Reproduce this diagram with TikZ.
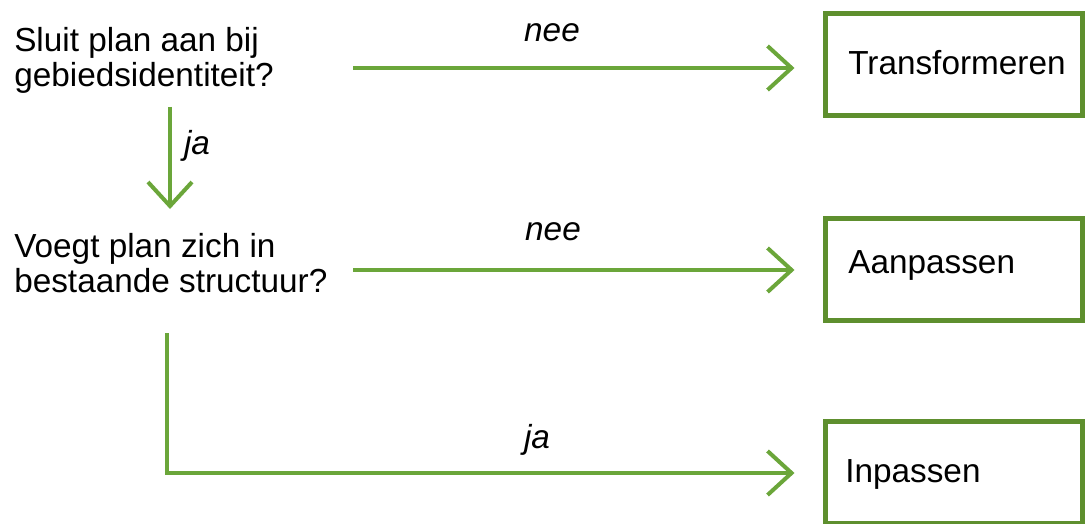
\documentclass[tikz,border=0pt]{standalone}
\usepackage{fontspec}
\setmainfont{Liberation Sans}
\usetikzlibrary{arrows.meta}
\definecolor{boxgreen}{HTML}{5E8F2E}
\definecolor{arrgreen}{HTML}{6BA63A}
\tikzset{
  qtext/.style={anchor=base west, inner sep=0pt, align=left, font=\fontsize{25}{26.25}\selectfont},
  lbl/.style={anchor=base, inner sep=0pt, font=\fontsize{25}{26.25}\selectfont\itshape},
  outbox/.style={draw=boxgreen, line width=3.75pt, fill=white, minimum width=192.75pt, minimum height=76.5pt, inner sep=0pt},
  boxtext/.style={anchor=base west, inner sep=0pt, font=\fontsize{25}{26.25}\selectfont},
  conn/.style={draw=arrgreen, line width=3pt, -{Straight Barb[length=18pt, width=33pt, line width=3pt]}},
}
\begin{document}
\begin{tikzpicture}[x=0.75pt, y=-0.75pt]
\useasboundingbox (0,0) rectangle (1085,524);
\fill[white] (0,0) rectangle (1085,524);
% boxes
\node[outbox] (t1) at (953.5,65) {};
\node[outbox] (t2) at (953.5,269) {};
\node[outbox] (t3) at (953.5,472) {};
\node[boxtext] (t1l) at (848,75) {Transformeren};
\node[boxtext] (t2l) at (848,273) {Aanpassen};
\node[boxtext] (t3l) at (845,482) {Inpassen};
% questions
\node[qtext] (q1) at (14,52) {Sluit plan aan bij};
\node[qtext] (q1b) at (14,87) {gebiedsidentiteit?};
\node[qtext] (q2) at (14,257) {Voegt plan zich in};
\node[qtext] (q2b) at (14,292) {bestaande structuur?};
% connector coordinates
\coordinate (a1s) at (353,68);
\coordinate (a2s) at (353,270);
\coordinate (vs) at (170,107);
\coordinate (ve) at (170,209);
\coordinate (bs) at (167,333);
\coordinate (bc) at (167,473);
% connectors
\draw[conn, shorten >=21pt] (a1s) -- (a1s -| t1.west);
\draw[conn, shorten >=21pt] (a2s) -- (a2s -| t2.west);
\draw[conn] (vs) -- (ve);
\draw[conn, shorten >=21pt] (bs) -- (bc) -- (bc -| t3.west);
% labels
\node[lbl] (n1) at (552,42) {nee};
\node[lbl] (n2) at (553,240) {nee};
\node[lbl] (j1) at (197,155) {ja};
\node[lbl] (j2) at (537,448) {ja};
\end{tikzpicture}
\end{document}
